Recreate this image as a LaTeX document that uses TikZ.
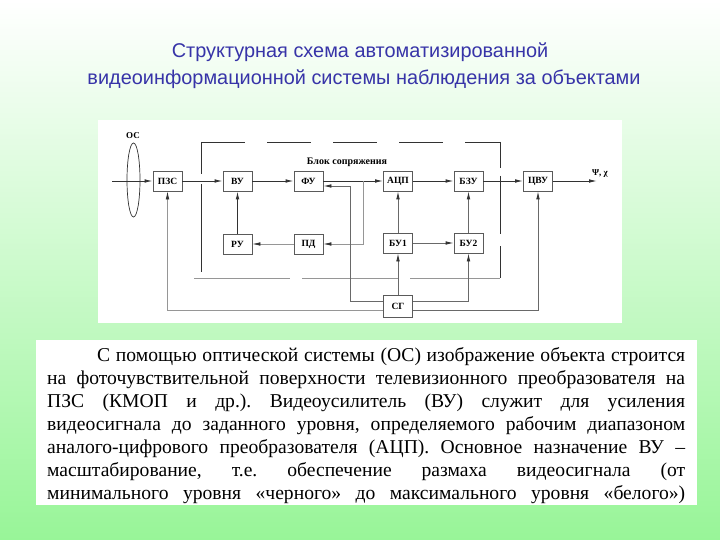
\documentclass[tikz,border=0pt]{standalone}
\usepackage{fontspec}
\setmainfont{Liberation Serif}
\newfontfamily\titlefont{Liberation Sans}
\usetikzlibrary{arrows.meta,calc}
\frenchspacing
\definecolor{titleblue}{RGB}{55,52,168}
\definecolor{bgmid}{RGB}{212,251,212}
\definecolor{bgbot}{RGB}{152,245,152}
\definecolor{dline}{RGB}{50,50,50}
\definecolor{mline}{RGB}{105,105,105}
\definecolor{lline}{RGB}{150,150,150}
\definecolor{boxline}{RGB}{90,90,90}
\begin{document}
\begin{tikzpicture}[x=1pt,y=-1pt,
  blk/.style={draw=boxline, line width=0.8pt, fill=white, minimum width=29pt, minimum height=20pt, inner sep=0pt, font=\fontsize{9.5}{10}\selectfont\bfseries},
  tip/.style={-{Latex[length=8pt,width=3.6pt,color=dline]}},
  arr/.style={draw=dline, line width=0.9pt, tip},
  arrm/.style={draw=mline, line width=0.8pt, tip},
  arrl/.style={draw=lline, line width=0.7pt, tip},
  lbl/.style={inner sep=0pt, font=\fontsize{9}{10}\selectfont\bfseries},
  txtline/.style={anchor=base west, inner sep=0pt, font=\fontsize{19.6}{23}\selectfont},
  ttl/.style={inner sep=0pt, text=titleblue, font=\titlefont\fontsize{19.9}{23}\selectfont}
]
\useasboundingbox (0,0) rectangle (720,540);
% background
\shade[top color=white, middle color=bgmid, bottom color=bgbot] (0,0) rectangle (720,540);
% title
\node[ttl] (t1) at (360,52) {Структурная схема автоматизированной};
\node[ttl] (t2) at (364,79) {видеоинформационной системы наблюдения за объектами};
% panels
\fill[white] (98,120) rectangle (622,323);
\fill[white] (36,340) rectangle (697,505);

% dashed interface block
\draw[dline, line width=0.8pt, dash pattern=on 44pt off 22pt] (201,142) -- (500,142);
\draw[dline, line width=0.8pt, dash pattern=on 26pt off 8pt on 58pt off 12pt on 40pt] (500,142) -- (500,278);
\draw[dline, line width=0.8pt, dash pattern=on 32pt off 10pt on 88pt off 8pt] (201,142) -- (201,278);
\draw[lline, line width=0.7pt, dash pattern=on 96pt off 12pt] (194,278) -- (500,278);
\node[lbl, font=\fontsize{10}{11}\selectfont\bfseries] (blk) at (347,162) {Блок сопряжения};

% lens
\draw[dline, line width=0.7pt] (133.5,180) ellipse [x radius=6.5, y radius=37];
\node[lbl] (os) at (133,136) {ОС};

% blocks
\node[blk] (pzs) at (167.5,181) {ПЗС};
\node[blk] (vu)  at (237.5,181) {ВУ};
\node[blk] (fu)  at (308.5,181) {ФУ};
\node[blk] (adc) at (398,181) {АЦП};
\node[blk] (bzu) at (468.5,181) {БЗУ};
\node[blk] (cvu) at (538,181) {ЦВУ};
\node[blk] (ru)  at (237.5,244) {РУ};
\node[blk] (pd)  at (308.5,244) {ПД};
\node[blk] (bu1) at (398,243) {БУ1};
\node[blk] (bu2) at (468.5,243) {БУ2};
\node[blk, minimum height=22pt] (sg) at (398,306) {СГ};

\coordinate (in) at (112,181);
\coordinate (out) at (597,181);
\coordinate (br) at (363,181);
\coordinate (fbc) at (350,186);
\node[lbl, anchor=west] (psi) at (592,174) {Ψ, χ};

% main chain
\draw[arr] (in) -- (pzs);
\draw[arr] (pzs) -- (vu);
\draw[arr] (vu) -- (fu);
\draw[arr] (fu) -- (adc);
\draw[arr] (adc) -- (bzu);
\draw[arr] (bzu) -- (cvu);
\draw[arr] (cvu) -- (out);
% regulation loop
\draw[arrl] (br) |- (pd);
\draw[arrl] (pd) -- (ru);
\draw[arr] (ru) -- (vu);
% control units
\draw[arrm] (bu1) -- (adc);
\draw[arrm] (bu2) -- (bzu);
\draw[arrm] (bu1) -- (bu2);
\draw[arrm] (sg) -- (bu1);
\draw[arrm] ([yshift=5pt]sg.east) -| (bu2.south);
\draw[arrm] ([yshift=-4pt]sg.east) -| (cvu.south);
\draw[arrm] ([yshift=5pt]sg.west) -| (fbc) -- ([yshift=-5pt]fu.east);
\draw[arrl] ([yshift=-4pt]sg.west) -| (pzs.south);

% text
\node[txtline] (l1) at (97,361.5) {\makebox[588pt][s]{С помощью оптической системы (ОС) изображение объекта строится}};
\node[txtline] (l2) at (47,384.5) {\makebox[638pt][s]{на фоточувствительной поверхности телевизионного преобразователя на}};
\node[txtline] (l3) at (47,407.5) {\makebox[638pt][s]{ПЗС (КМОП и др.). Видеоусилитель (ВУ) служит для усиления}};
\node[txtline] (l4) at (47,430.5) {\makebox[638pt][s]{видеосигнала до заданного уровня, определяемого рабочим диапазоном}};
\node[txtline] (l5) at (47,453.5) {\makebox[638pt][s]{аналого-цифрового преобразователя (АЦП). Основное назначение ВУ –}};
\node[txtline] (l6) at (47,476.5) {\makebox[638pt][s]{масштабирование, т.е. обеспечение размаха видеосигнала (от}};
\node[txtline] (l7) at (47,499.5) {\makebox[638pt][s]{минимального уровня «черного» до максимального уровня «белого»)}};
\end{tikzpicture}
\end{document}
